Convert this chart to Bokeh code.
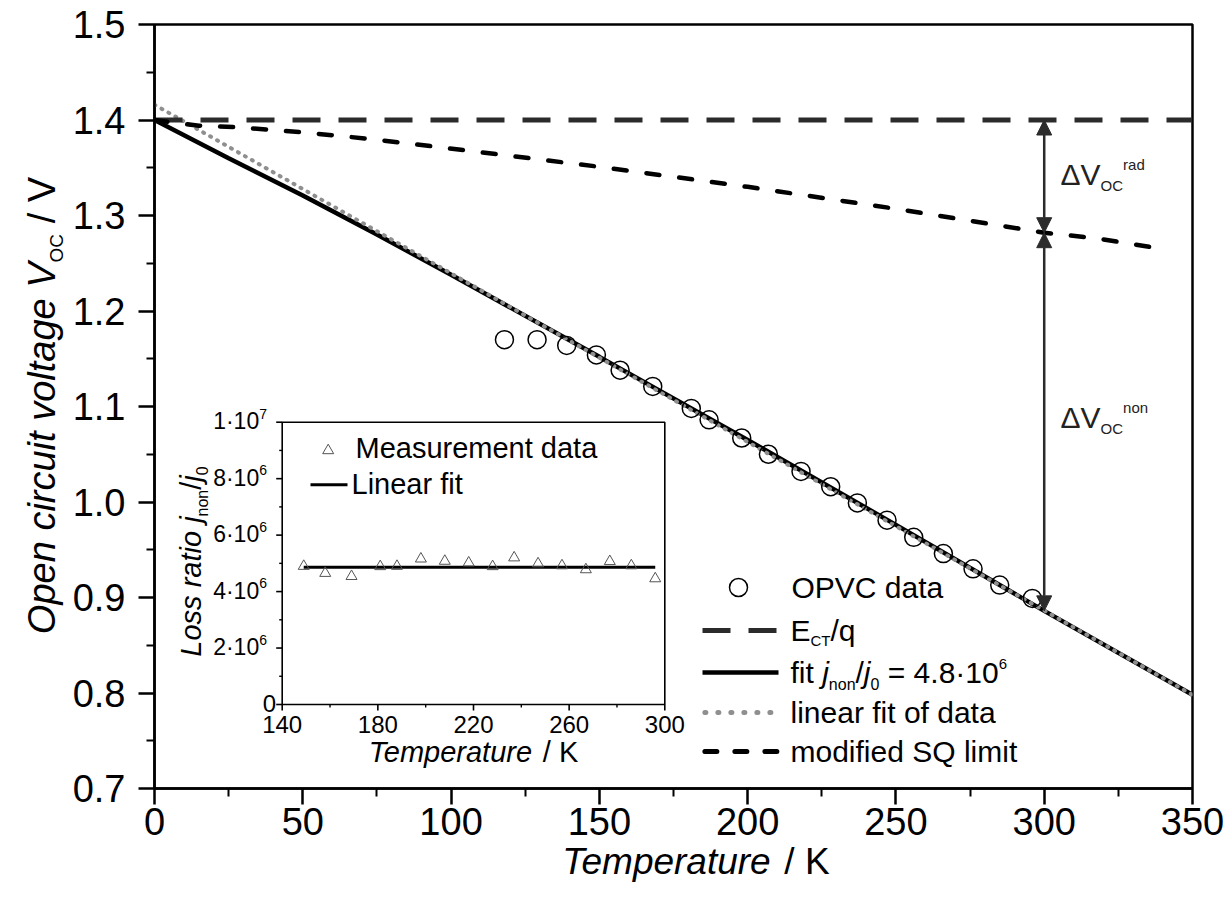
import math
from bokeh.plotting import figure
from bokeh.layouts import row, column
from bokeh.models import (Range1d, FixedTicker, PrintfTickFormatter, Label, Arrow, NormalHead)
from bokeh.embed import file_html
from bokeh.resources import INLINE

# ---------------- data ----------------
T_OPVC = [118, 129, 139, 149, 157, 168, 181, 187, 198, 207, 218, 228, 237, 247, 256, 266, 276, 285, 296]
V_OPVC = [1.170, 1.170, 1.164, 1.154, 1.138, 1.121, 1.098, 1.086, 1.067, 1.050, 1.032, 1.016,
          0.999, 0.981, 0.963, 0.946, 0.930, 0.913, 0.899]

T_ECT = [0, 350]
V_ECT = [1.400, 1.400]

T_FIT = [0, 25, 50, 75, 100, 150, 200, 250, 300, 350]
V_FIT = [1.400, 1.360, 1.321, 1.280, 1.238, 1.152, 1.065, 0.976, 0.886, 0.798]

T_LIN = [0, 350]
V_LIN = [1.416, 0.798]

T_SQ = [0, 15, 27, 38, 50, 62, 73, 85, 96, 108, 150, 200, 250, 300, 318, 329, 341]
V_SQ = [1.400, 1.394, 1.3925, 1.390, 1.387, 1.3835, 1.380, 1.3757, 1.3715, 1.367,
        1.351, 1.330, 1.307, 1.282, 1.276, 1.2704, 1.2644]

ARROW_T = 300

X_TICKS = [0, 50, 100, 150, 200, 250, 300, 350]
X_MINOR = [25, 75, 125, 175, 225, 275, 325]
Y_TICKS = [0.7, 0.8, 0.9, 1.0, 1.1, 1.2, 1.3, 1.4, 1.5]
Y_MINOR = [0.75, 0.85, 0.95, 1.05, 1.15, 1.25, 1.35, 1.45]

# inset: loss ratio
T_IN = [149, 158, 169, 181, 188, 198, 208, 218, 228, 237, 247, 257, 267, 277, 286, 296]
R_IN = [4.90e6, 4.65e6, 4.54e6, 4.89e6, 4.90e6, 5.16e6, 5.08e6, 5.02e6, 4.89e6, 5.20e6,
        4.99e6, 4.92e6, 4.78e6, 5.07e6, 4.92e6, 4.46e6]
T_IN_FIT = [149, 296]
R_IN_FIT = [4.86e6, 4.86e6]
IN_X_TICKS = [140, 180, 220, 260, 300]
IN_X_MINOR = [160, 200, 240, 280]
IN_Y_TICKS = [0, 2e6, 4e6, 6e6, 8e6, 1e7]
IN_Y_MINOR = [1e6, 3e6, 5e6, 7e6, 9e6]

# ---------------- layout (px of the whole picture) ----------------
FONT = "Liberation Sans"
W_TOT, H_TOT = 1224, 890
YT_W = 68                                     # strip for the y-axis title
XT_OVER = 14                                  # x-title strip overlaps the empty bottom of p
FL, FR, FT, FB = 154, 1192, 24, 788           # main frame
IL, IR, IT, IB = 281.7, 664.3, 421.7, 704     # inset box
X0, X1, Y0, Y1 = 0, 350, 0.7, 1.5
P_W, P_H = W_TOT - YT_W, 850
XT_TOP = P_H - XT_OVER
XT_H = H_TOT - XT_TOP
BASE_FIX = 0.38   # rendered "alphabetic" labels sit this many em too low: lift them

def px2x(px):
    return X0 + (px - FL) * (X1 - X0) / (FR - FL)

def px2y(py):
    return Y1 - (py - FT) * (Y1 - Y0) / (FB - FT)

# Arial / Liberation Sans advance widths (em)
WID = {' ': .278, '.': .278, '/': .278, '=': .584, '\u00b7': .333, '\u0394': .668,
       'A': .667, 'C': .722, 'E': .667, 'K': .667, 'L': .556, 'M': .833, 'O': .778,
       'P': .667, 'Q': .778, 'S': .667, 'T': .611, 'V': .667,
       'a': .556, 'c': .5, 'd': .556, 'e': .556, 'f': .278, 'g': .556, 'i': .222,
       'j': .222, 'l': .222, 'm': .833, 'n': .556, 'o': .556, 'p': .556, 'q': .556,
       'r': .333, 's': .5, 't': .278, 'u': .556, 'v': .5}

def tw(s, size):
    return sum(WID.get(c, .556) for c in s) * size

def lab(fig, x, y, text, size, xo=0.0, yo=0.0, angle=0.0, align="left", style="normal",
        color="black", **rk):
    """Label whose (x, y) + offsets is the alphabetic baseline point."""
    fix = BASE_FIX * size
    if angle == 0:
        yo += fix
    else:
        xo -= fix
    fig.add_layout(Label(x=x, y=y, x_offset=xo, y_offset=yo, text=text, angle=angle,
                         text_font=FONT, text_font_size=f"{size}px", text_font_style=style,
                         text_color=color, text_align=align, text_baseline="alphabetic", **rk))

def rich(fig, segs, x, y, angle=0.0, align="left", color="black", **rk):
    """segs: list of (text, size, style, raise_px)"""
    total = sum(tw(t, s) for t, s, _, _ in segs)
    adv = {"left": 0.0, "center": -total / 2, "right": -total}[align]
    for text, size, style, dy in segs:
        stripped = text.lstrip(" ")
        a = adv + tw(text[:len(text) - len(stripped)], size)
        if angle == 0:
            xo, yo = a, dy
        else:
            xo, yo = -dy, a
        lab(fig, x, y, stripped, size, xo, yo, angle=angle, style=style, color=color, **rk)
        adv += tw(text, size)

def blank(w, h, xr, yr, **kw):
    f = figure(width=w, height=h, output_backend="svg", toolbar_location=None, title=None,
               x_range=Range1d(*xr), y_range=Range1d(*yr), x_axis_type=None, y_axis_type=None,
               min_border=0, **kw)
    f.outline_line_color = None
    f.background_fill_alpha = 0
    f.border_fill_alpha = 0
    return f

# ---------------- main figure ----------------
p = figure(width=P_W, height=P_H, output_backend="svg", toolbar_location=None, title=None,
           x_range=Range1d(X0, X1), y_range=Range1d(Y0, Y1),
           min_border_left=FL - YT_W, min_border_right=W_TOT - FR,
           min_border_top=FT, min_border_bottom=P_H - FB)
p.xgrid.visible = False
p.ygrid.visible = False
p.background_fill_color = "white"
p.border_fill_color = "white"
p.outline_line_color = "black"
p.outline_line_width = 2.5

for ax in (p.xaxis[0], p.yaxis[0]):
    ax.axis_line_width = 2.5
    ax.major_tick_line_width = 2.5
    ax.minor_tick_line_width = 2
    ax.major_tick_in = 0
    ax.major_tick_out = 16
    ax.minor_tick_in = 0
    ax.minor_tick_out = 8
    ax.major_label_text_font = FONT
    ax.major_label_text_font_size = "38px"
    ax.major_label_text_color = "black"
p.xaxis.ticker = FixedTicker(ticks=X_TICKS, minor_ticks=X_MINOR)
p.yaxis.ticker = FixedTicker(ticks=Y_TICKS, minor_ticks=Y_MINOR)
p.yaxis.formatter = PrintfTickFormatter(format="%.1f")
p.xaxis.major_label_standoff = 3
p.yaxis.major_label_standoff = 13

# main curves
p.line(T_FIT, V_FIT, line_color="black", line_width=4.5)
p.line(T_LIN, V_LIN, line_color="#8f8f8f", line_width=4, line_dash="1 7", line_cap="round")
p.line(T_ECT, V_ECT, line_color="#2b2b2b", line_width=5, line_dash="28 18")
p.line(T_SQ, V_SQ, line_color="black", line_width=4.5, line_dash="13 20", line_cap="round")
p.scatter(T_OPVC, V_OPVC, marker="circle", size=18, fill_color=None, line_color="black", line_width=1.5)

# arrows
v_sq_arrow = V_SQ[T_SQ.index(ARROW_T)]
v_fit_arrow = V_FIT[T_FIT.index(ARROW_T)]
for ys, ye in ((v_sq_arrow, V_ECT[0]), (v_sq_arrow, v_fit_arrow)):
    p.add_layout(Arrow(x_start=ARROW_T, y_start=ys, x_end=ARROW_T, y_end=ye,
                       line_color="#2b2b2b", line_width=2.5,
                       start=NormalHead(size=15, fill_color="#2b2b2b", line_color="#2b2b2b", line_width=1),
                       end=NormalHead(size=15, fill_color="#2b2b2b", line_color="#2b2b2b", line_width=1)))

rich(p, [("\u0394V", 30, "normal", 0), ("OC", 15, "normal", -6), ("rad", 15, "normal", 15)],
     px2x(1060), px2y(185), color="#222222")
rich(p, [("\u0394V", 30, "normal", 0), ("OC", 15, "normal", -6), ("non", 15, "normal", 15)],
     px2x(1060), px2y(428), color="#222222")

# main legend
LEG_X0, LEG_X1, LEG_TX = px2x(702), px2x(778), px2x(790)
rows = [587, 630, 672, 712, 751]
p.scatter([px2x(738)], [px2y(rows[0])], marker="circle", size=18, fill_color=None,
          line_color="black", line_width=1.5)
p.line([LEG_X0, LEG_X1], [px2y(rows[1])] * 2, line_color="#2b2b2b", line_width=5, line_dash="28 18")
p.line([LEG_X0, LEG_X1], [px2y(rows[2])] * 2, line_color="black", line_width=4.5)
p.line([LEG_X0 + 0.8, LEG_X1], [px2y(rows[3])] * 2, line_color="#8f8f8f", line_width=5,
       line_dash="1 12", line_cap="round")
p.line([LEG_X0 + 0.8, LEG_X1], [px2y(rows[4])] * 2, line_color="black", line_width=5,
       line_dash="12 18", line_cap="round")
LS = 30
rich(p, [("OPVC data", LS, "normal", 0)], px2x(791), px2y(rows[0] + 11))
rich(p, [("E", LS, "normal", 0), ("CT", 15, "normal", -5), ("/q", LS, "normal", 0)], LEG_TX, px2y(rows[1] + 11))
rich(p, [("fit ", LS, "normal", 0), ("j", LS, "italic", 0), ("non", 16, "normal", -7), ("/", LS, "normal", 0),
         ("j", LS, "italic", 0), ("0", 16, "normal", -7), (" = 4.8\u00b710", LS, "normal", 0),
         ("6", 15, "normal", 14)], LEG_TX, px2y(rows[2] + 11))
rich(p, [("linear fit of data", LS, "normal", 0)], LEG_TX, px2y(rows[3] + 11))
rich(p, [("modified SQ limit", LS, "normal", 0)], LEG_TX, px2y(rows[4] + 11))

# ---------------- inset (drawn through extra ranges) ----------------
IX0, IX1 = IN_X_TICKS[0], IN_X_TICKS[-1]
IY0, IY1 = IN_Y_TICKS[0], IN_Y_TICKS[-1]
sx = (IX1 - IX0) / (IR - IL)
sy = (IY1 - IY0) / (IB - IT)
p.extra_x_ranges = {"ix": Range1d(IX0 - (IL - FL) * sx, IX1 + (FR - IR) * sx)}
p.extra_y_ranges = {"iy": Range1d(IY0 - (FB - IB) * sy, IY1 + (IT - FT) * sy)}
R = dict(x_range_name="ix", y_range_name="iy")

p.quad(left=[IX0], right=[IX1], bottom=[IY0], top=[IY1], fill_color="white", line_color="black",
       line_width=1.6, **R)
p.segment(x0=IN_X_TICKS, y0=[IY0] * 5, x1=IN_X_TICKS, y1=[IY0 - 6 * sy] * 5, line_color="black", line_width=1.6, **R)
p.segment(x0=IN_X_MINOR, y0=[IY0] * 4, x1=IN_X_MINOR, y1=[IY0 - 3 * sy] * 4, line_color="black", line_width=1.4, **R)
p.segment(x0=[IX0] * 6, y0=IN_Y_TICKS, x1=[IX0 - 6 * sx] * 6, y1=IN_Y_TICKS, line_color="black", line_width=1.6, **R)
p.segment(x0=[IX0] * 5, y0=IN_Y_MINOR, x1=[IX0 - 3 * sx] * 5, y1=IN_Y_MINOR, line_color="black", line_width=1.4, **R)

for t in IN_X_TICKS:
    lab(p, t, IY0, str(t), 24, yo=-(733 - IB), align="center", **R)
for v in IN_Y_TICKS:
    if v == 0:
        lab(p, IX0, v, "0", 24, xo=-6, yo=-8, align="right", **R)
        continue
    e = int(math.floor(math.log10(v)))
    m = int(round(v / 10 ** e))
    lab(p, IX0, v, f"{m}\u00b710", 23, xo=-23, yo=-8, align="right", **R)
    lab(p, IX0, v, str(e), 14, xo=-23, yo=3, align="left", **R)

p.line(T_IN_FIT, R_IN_FIT, line_color="black", line_width=3, **R)
p.scatter(T_IN, R_IN, marker="triangle", size=11, fill_color=None, line_color="#555555", line_width=1, **R)

# inset legend
p.scatter([IX0 + (327.7 - IL) * sx], [IY1 - (450 - IT) * sy], marker="triangle", size=11,
          fill_color=None, line_color="#555555", line_width=1, **R)
p.line([IX0 + (310 - IL) * sx, IX0 + (347 - IL) * sx], [IY1 - (484.3 - IT) * sy] * 2,
       line_color="black", line_width=3, **R)
rich(p, [("Measurement data", 29, "normal", 0)], IX0 + (355 - IL) * sx, IY1 - (458.3 - IT) * sy, **R)
rich(p, [("Linear fit", 29, "normal", 0)], IX0 + (351 - IL) * sx, IY1 - (495 - IT) * sy, **R)

# inset axis titles
rich(p, [("Temperature", 29, "italic", 0), (" / K", 29, "normal", 0)],
     IX0 + (473 - IL) * sx, IY0 - (763 - IB) * sy, align="center", **R)
rich(p, [("Loss ratio j", 29, "italic", 0), ("non", 16, "normal", -6), ("/", 29, "normal", 0),
         ("j", 29, "italic", 0), ("0", 16, "normal", -6)],
     IX0 - (IL - 202) * sx, IY0 + (IB - 561) * sy, angle=math.pi / 2, align="center", **R)

# ---------------- axis-title strips (coordinates = picture px) ----------------
yt = blank(YT_W, H_TOT, (0, YT_W), (H_TOT, 0))
yt.background_fill_alpha = 1
yt.border_fill_alpha = 1
rich(yt, [("Open circuit voltage ", 38, "italic", 0), ("V", 38, "italic", 0), ("OC", 19, "normal", -7),
          (" / V", 38, "normal", 0)], 56, 405, angle=math.pi / 2, align="center")

xt = blank(P_W, XT_H, (YT_W, W_TOT), (H_TOT, XT_TOP), margin=(-XT_OVER, 0, 0, 0))
rich(xt, [("Temperature", 37, "italic", 0), (" / K", 37, "normal", 0)], 671, 875, align="center")

layout = row(yt, column(p, xt, spacing=0), spacing=0)
open("out.html", "w").write(file_html(layout, INLINE))
